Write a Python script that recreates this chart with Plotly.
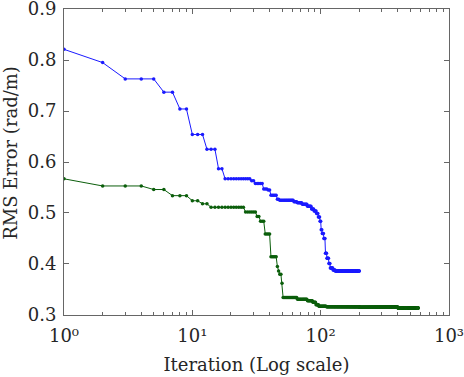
import numpy as np
import plotly.graph_objects as go

# best-so-far RMS error, stored as runs: value held for N iterations
blue_vals = [0.821, 0.795, 0.763, 0.737, 0.704, 0.654, 0.625, 0.587, 0.567,
             0.563, 0.558, 0.547, 0.545, 0.535, 0.527, 0.525, 0.522, 0.520,
             0.517, 0.513, 0.508, 0.504, 0.499, 0.492, 0.484, 0.467, 0.460,
             0.450, 0.421, 0.411, 0.401, 0.392, 0.388, 0.386]
blue_lens = [1, 1, 3, 2, 2, 3, 3, 2, 11,
             2, 5, 3, 2, 5, 2, 14, 4, 6,
             7, 6, 4, 4, 3, 3, 2, 2, 3,
             3, 3, 4, 3, 6, 5, 71]

green_vals = [0.567, 0.553, 0.546, 0.534, 0.524, 0.518, 0.511, 0.502, 0.493,
              0.484, 0.459, 0.414, 0.395, 0.386, 0.380, 0.362, 0.334, 0.331,
              0.328, 0.325, 0.320, 0.317, 0.316, 0.315, 0.3135]
green_lens = [1, 3, 2, 3, 2, 2, 12, 6, 2,
              3, 4, 5, 1, 1, 2, 1, 15, 13,
              8, 5, 5, 14, 90, 200, 175]

x_ticks = [1, 10, 100, 1000]
x_ticktext = ["10\u2070", "10\u00b9", "10\u00b2", "10\u00b3"]
y_ticks = [0.3, 0.4, 0.5, 0.6, 0.7, 0.8, 0.9]
y_ticktext = ["0.3", "0.4", "0.5", "0.6", "0.7", "0.8", "0.9"]

blue_y = np.repeat(blue_vals, blue_lens)
blue_x = np.arange(1, len(blue_y) + 1)
green_y = np.repeat(green_vals, green_lens)
green_x = np.arange(1, len(green_y) + 1)

minor_x = [m * d for d in (1, 10, 100) for m in range(2, 10)]

fig = go.Figure()
fig.add_trace(go.Scatter(x=blue_x, y=blue_y, mode="lines+markers",
                         line=dict(color="#1a1aff", width=1),
                         marker=dict(color="#1a1aff", size=3.5)))
fig.add_trace(go.Scatter(x=green_x, y=green_y, mode="lines+markers",
                         line=dict(color="#0b5e0b", width=1),
                         marker=dict(color="#0b5e0b", size=3.5)))

font = "DejaVu Serif"
txt_font = dict(family=font, size=18, color="#262626")
axis_common = dict(showgrid=False, zeroline=False, showline=True, linecolor="#666",
                   linewidth=1, mirror="ticks", ticks="inside", tickcolor="#666",
                   ticklen=5, ticklabeloverflow="allow", automargin=False,
                   tickfont=txt_font)

fig.update_xaxes(type="log", range=[-0.0001, 3.0001], tickvals=x_ticks, ticktext=x_ticktext,
                 ticklabelstandoff=4,
                 minor=dict(tickvals=minor_x, ticks="inside", ticklen=3, tickcolor="#666"),
                 title=dict(text="Iteration (Log scale)", standoff=13, font=txt_font),
                 **axis_common)
fig.update_yaxes(range=[0.2999, 0.9001], tickvals=y_ticks, ticktext=y_ticktext,
                 ticklabelstandoff=3, **axis_common)

fig.add_annotation(text="RMS Error (rad/m)", xref="paper", yref="paper",
                   x=-0.138, y=0.53, xanchor="center", yanchor="middle",
                   textangle=-90, showarrow=False, font=txt_font)

fig.update_layout(width=464, height=377, showlegend=False,
                  plot_bgcolor="white", paper_bgcolor="white",
                  margin=dict(l=64, r=15, t=9, b=62))

# drop the default page margin so the figure sits at the window's corner
fig.write_html("out.html", config={"displayModeBar": False},
               post_script="document.body.style.margin='0';")
